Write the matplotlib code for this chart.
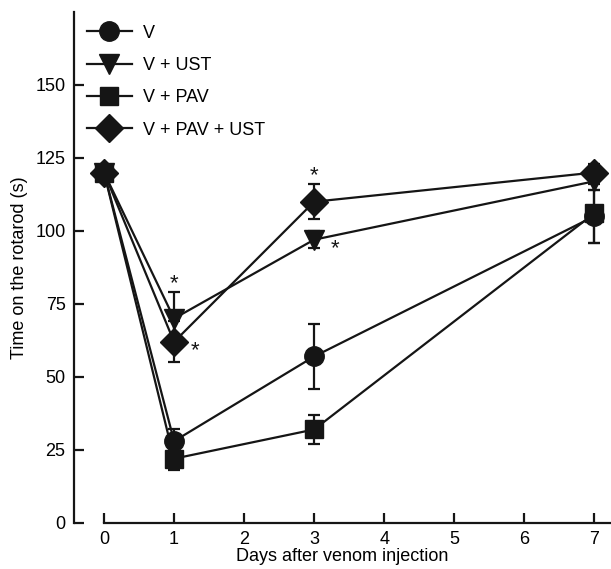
import matplotlib
matplotlib.use("Agg")
import matplotlib.pyplot as plt
from matplotlib.lines import Line2D

plt.rcParams['font.family'] = ['Liberation Sans', 'DejaVu Sans']

days = [0, 1, 3, 7]
v_mean = [120, 28, 57, 105]
v_err = [2, 4, 11, 9]
ust_mean = [120, 70, 97, 117]
ust_err = [2, 9, 3, 3]
pav_mean = [120, 22, 32, 106]
pav_err = [2, 4, 5, 10]
pu_mean = [120, 62, 110, 120]
pu_err = [2, 7, 6, 3]

series = [
    ("V", v_mean, v_err, "o", 14),
    ("V + UST", ust_mean, ust_err, "v", 15),
    ("V + PAV", pav_mean, pav_err, "s", 13),
    ("V + PAV + UST", pu_mean, pu_err, "D", 14),
]

# asterisks (x, y)
stars = [(1, 82), (1.3, 59), (3, 119), (3.3, 94)]

col = "#151515"
fig = plt.figure(figsize=(6.11, 5.69), dpi=100)
ax = fig.add_axes([0.121, 0.081, 0.879, 0.898])

handles = []
for name, m, e, mk, ms in series:
    ax.errorbar(days, m, yerr=e, color=col, marker=mk, markersize=ms,
                linewidth=1.6, elinewidth=1.6, capsize=4.5, capthick=1.6,
                clip_on=False)
    handles.append(Line2D([], [], color=col, marker=mk, markersize=ms,
                          linewidth=1.6, label=name))

for sx, sy in stars:
    ax.text(sx, sy, "*", ha="center", va="center", fontsize=16, color=col)

ax.set_xlim(-0.43, 7.24)
ax.set_ylim(0, 175)
ax.set_xticks(range(8))
ax.set_yticks([0, 25, 50, 75, 100, 125, 150])
ax.spines['top'].set_visible(False)
ax.spines['right'].set_visible(False)
ax.spines['bottom'].set_bounds(0, 7.24)
for s in ('left', 'bottom'):
    ax.spines[s].set_linewidth(1.6)
    ax.spines[s].set_color(col)
ax.tick_params(direction='in', length=7, width=1.6, labelsize=13, color=col, pad=6)
ax.set_xlabel("Days after venom injection", fontsize=13, labelpad=0)
ax.set_ylabel("Time on the rotarod (s)", fontsize=13, labelpad=5)

ax.legend(handles=handles, loc="upper left", bbox_to_anchor=(0.0, 1.0), frameon=False,
          fontsize=13, handlelength=2.5, handletextpad=0.6, labelspacing=0.85,
          borderaxespad=0.3)

fig.savefig("out.png", dpi=100)
